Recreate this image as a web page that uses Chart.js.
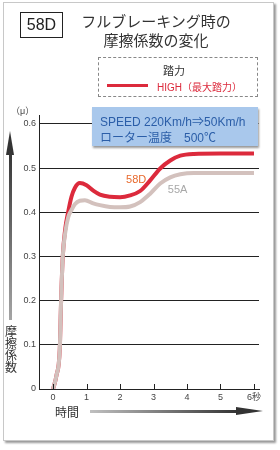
<!DOCTYPE html>
<html lang="ja">
<head>
<meta charset="utf-8">
<script src="https://cdn.jsdelivr.net/npm/chart.js@4"></script>
<style>
  html, body { margin: 0; padding: 0; background: #fff; }
  body { width: 280px; height: 450px; position: relative; overflow: hidden;
         font-family: "Liberation Sans", "Noto Sans CJK JP", sans-serif; color: #333; }
  #frame { position: absolute; left: 3px; top: 2px; width: 269px; height: 437px;
           border: 1px solid #c8c8c8; box-shadow: 2px 2px 2px #999; background: #fff; }
  #chartWrap { position: absolute; left: 0; top: 0; width: 280px; height: 450px; }
  .abs { position: absolute; white-space: nowrap; }
  #code { left: 20px; top: 12px; width: 41px; height: 24px; border: 1px solid #222;
          font-size: 16px; line-height: 24px; text-align: center; color: #222; }
  #title { left: 76px; top: 11px; width: 160px; text-align: center; font-size: 15px; line-height: 19px;
           font-family: "Noto Sans CJK JP", sans-serif; color: #333; }
  #legend { left: 98px; top: 57px; width: 158px; height: 38px; border: 1px dashed #888; }
  #legTitle { left: 0; top: 4px; width: 150px; text-align: center; font-size: 11px;
              font-family: "Noto Sans CJK JP", sans-serif; color: #333; }
  #legLine { left: 8px; top: 26px; width: 41px; height: 3px; background: #dc2a3c; }
  #legText { left: 58px; top: 21px; font-size: 10px; color: #dc2a3c;
             font-family: "Liberation Sans", "Noto Sans CJK JP", sans-serif; }
  #info { left: 92px; top: 107px; width: 166px; height: 39px; background: #a9c8ec;
          box-shadow: 1px 2px 2px #999; color: #2b5ea8; font-size: 12px; }
  #info div { position: absolute; left: 8px; white-space: nowrap; }
  #mu { left: 11px; top: 104px; font-size: 9px; color: #444; }
  #yArrow { left: 9px; top: 148px; width: 3px; height: 172px;
            background: linear-gradient(#333, #a5a5a5); }
  #yHead { left: 6px; top: 131px; width: 0; height: 0; border-left: 4px solid transparent;
           border-right: 4px solid transparent; border-bottom: 24px solid #333; }
  #yLabel { left: 5px; top: 325px; width: 13px; font-size: 12px; line-height: 12px;
            font-family: "Noto Sans CJK JP", sans-serif; color: #333; white-space: normal; }
  #xLabel { left: 55px; top: 403px; font-size: 12px; font-family: "Noto Sans CJK JP", sans-serif; color: #333; }
  #xArrow { left: 90px; top: 410px; width: 148px; height: 3px;
            background: linear-gradient(90deg, #c0c0c0, #333); }
  #xHead { left: 236px; top: 407px; width: 0; height: 0; border-top: 4.5px solid transparent;
           border-bottom: 4.5px solid transparent; border-left: 27px solid #333; }
</style>
</head>
<body>
<div id="frame"></div>
<div id="chartWrap"><canvas id="frictionChart" width="280" height="450"></canvas></div>

<div class="abs" id="code">58D</div>
<div class="abs" id="title">フルブレーキング時の<br>摩擦係数の変化</div>
<div class="abs" id="legend">
  <div class="abs" id="legTitle">踏力</div>
  <div class="abs" id="legLine"></div>
  <div class="abs" id="legText">HIGH（最大踏力）</div>
</div>
<div class="abs" id="info">
  <div style="top:5px">SPEED 220Km/h⇒50Km/h</div>
  <div style="top:21px">ローター温度　500℃</div>
</div>
<div class="abs" id="mu">（μ）</div>
<div class="abs" id="yHead"></div>
<div class="abs" id="yArrow"></div>
<div class="abs" id="yLabel">摩擦係数</div>
<div class="abs" id="xLabel">時間</div>
<div class="abs" id="xArrow"></div>
<div class="abs" id="xHead"></div>

<script>
// 데이터 (시간[초] / 마찰계수)
const times58D = [0, 0.1, 0.2, 0.24, 0.29, 0.36, 0.45, 0.55, 0.65, 0.8, 1.0, 1.2, 1.4, 1.7, 2.0, 2.3, 2.6, 2.9, 3.2, 3.5, 3.8, 4.2, 5.0, 6.0];
const mu58D    = [0, 0.03, 0.09, 0.2, 0.3, 0.36, 0.4, 0.435, 0.455, 0.466, 0.461, 0.449, 0.44, 0.435, 0.434, 0.438, 0.448, 0.472, 0.499, 0.517, 0.528, 0.532, 0.533, 0.533];

const times55A = [0, 0.1, 0.2, 0.24, 0.29, 0.36, 0.45, 0.55, 0.65, 0.8, 0.95, 1.2, 1.4, 1.7, 2.0, 2.3, 2.6, 2.9, 3.2, 3.5, 3.8, 4.2, 5.0, 6.0];
const mu55A    = [0, 0.03, 0.09, 0.2, 0.3, 0.352, 0.388, 0.405, 0.418, 0.426, 0.427, 0.42, 0.416, 0.412, 0.411, 0.413, 0.423, 0.442, 0.465, 0.479, 0.486, 0.489, 0.489, 0.489];

const xTicks = [0, 1, 2, 3, 4, 5, 6];
const xTickLabels = ['0', '1', '2', '3', '4', '5', '6秒'];
const yTicks = [0, 0.1, 0.2, 0.3, 0.4, 0.5, 0.6];
const yTickLabels = ['0', '0.1', '0.2', '0.3', '0.4', '0.5', '0.6'];

const seriesNames = ['58D', '55A'];

const toPoints = (xs, ys) => xs.map((x, i) => ({ x: x, y: ys[i] }));

// 곡선 옆 라벨 + x축 눈금(위쪽)
const annotatePlugin = {
    id: 'annotate',
    afterDatasetsDraw(chart) {
        const { ctx, scales: { x, y } } = chart;
        ctx.save();
        ctx.font = '11px "Liberation Sans", Arial, sans-serif';
        ctx.textAlign = 'center';
        ctx.textBaseline = 'middle';
        ctx.fillStyle = '#e8692c';
        ctx.fillText(seriesNames[0], x.getPixelForValue(2.48), y.getPixelForValue(0.474));
        ctx.fillStyle = '#a8a8a8';
        ctx.fillText(seriesNames[1], x.getPixelForValue(3.72), y.getPixelForValue(0.451));

        ctx.strokeStyle = '#222';
        ctx.lineWidth = 1;
        const bottom = y.getPixelForValue(0);
        xTicks.forEach(t => {
            const px = Math.round(x.getPixelForValue(t)) + 0.5;
            ctx.beginPath();
            ctx.moveTo(px, bottom - 5);
            ctx.lineTo(px, bottom);
            ctx.stroke();
        });
        ctx.restore();
    }
};

const ctx = document.getElementById('frictionChart').getContext('2d');
new Chart(ctx, {
    type: 'line',
    data: {
        datasets: [
            {
                label: seriesNames[1],
                data: toPoints(times55A, mu55A),
                borderColor: '#d3c1bd',
                borderWidth: 4,
                pointRadius: 0,
                cubicInterpolationMode: 'monotone',
                fill: false
            },
            {
                label: seriesNames[0],
                data: toPoints(times58D, mu58D),
                borderColor: '#dc2a3c',
                borderWidth: 4,
                pointRadius: 0,
                cubicInterpolationMode: 'monotone',
                fill: false
            }
        ]
    },
    options: {
        responsive: false,
        animation: false,
        events: [],
        layout: { padding: { top: 115, right: 21, bottom: 41, left: 0 } },
        plugins: { legend: { display: false }, tooltip: { enabled: false } },
        scales: {
            x: {
                type: 'linear',
                min: -0.42,
                max: 6.15,
                afterBuildTicks: s => { s.ticks = xTicks.map(v => ({ value: v })); },
                afterFit: s => { s.height = 20; },
                grid: { drawOnChartArea: false, drawTicks: false },
                border: { color: '#222', width: 1 },
                ticks: {
                    padding: 3,
                    color: '#444',
                    font: { size: 9, family: '"Liberation Sans", "Noto Sans CJK JP", sans-serif' },
                    callback: (v) => xTickLabels[xTicks.indexOf(v)]
                }
            },
            y: {
                min: 0,
                max: 0.62,
                afterBuildTicks: s => { s.ticks = yTicks.map(v => ({ value: v })); },
                afterFit: s => { s.width = 39; },
                grid: {
                    drawTicks: false,
                    color: c => (c.tick && c.tick.value === 0) ? 'rgba(0,0,0,0)' : '#222',
                    lineWidth: 1
                },
                border: { color: '#222', width: 1 },
                ticks: {
                    padding: 3,
                    color: '#444',
                    font: { size: 9, family: '"Liberation Sans", sans-serif' },
                    callback: (v) => yTickLabels[yTicks.indexOf(v)]
                }
            }
        }
    },
    plugins: [annotatePlugin]
});
</script>
</body>
</html>
